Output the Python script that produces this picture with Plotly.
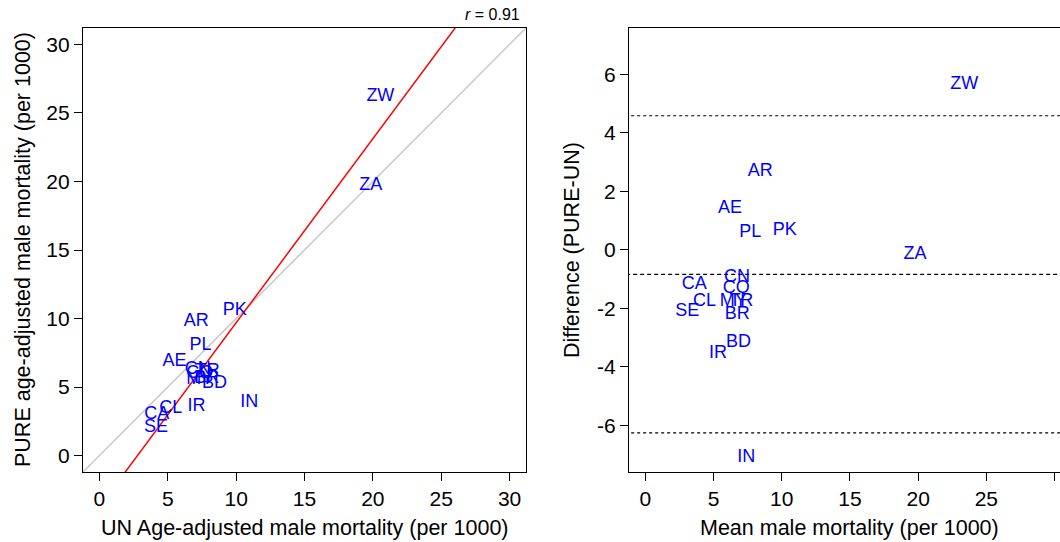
import plotly.graph_objects as go

# ---------------- data ----------------
codes = ["ZW", "ZA", "PK", "PL", "AR", "AE", "CN", "CO", "MY", "TR",
         "BR", "BD", "IR", "CA", "CL", "SE", "IN"]
un_mort = [20.55, 19.85, 9.9, 7.4, 7.08, 5.5, 7.2, 7.34, 7.34, 7.93,
           7.85, 8.41, 7.1, 4.19, 5.22, 4.14, 10.96]
pure_mort = [26.2, 19.7, 10.55, 8.0, 9.75, 6.9, 6.25, 6.0, 5.56, 6.15,
             5.63, 5.23, 3.55, 2.99, 3.44, 2.02, 3.85]

fit_intercept = -3.74
fit_slope = 1.343
r_value = 0.91

bias = -0.84
loa_upper = 4.58
loa_lower = -6.26

x_ticks = [0, 5, 10, 15, 20, 25, 30]
y_ticks_left = [0, 5, 10, 15, 20, 25, 30]
y_ticks_right = [-6, -4, -2, 0, 2, 4, 6]
y_ticktext_right = ["-6", "-4", "-2", "0", "2", "4", "6"]

mean_mort = [(u + p) / 2 for u, p in zip(un_mort, pure_mort)]
diff_mort = [p - u for u, p in zip(un_mort, pure_mort)]

FONT = "Liberation Sans, Arial, Helvetica, sans-serif"
BLUE = "#0000FF"
W, H = 1060, 542

fig = go.Figure()

# ---------------- left panel ----------------
ident = [-5, 40]
fig.add_trace(go.Scatter(x=ident, y=ident, mode="lines",
                         line=dict(color="#C8C8C8", width=1.5),
                         xaxis="x", yaxis="y", hoverinfo="skip"))
fit_x = [-5, 40]
fit_y = [fit_intercept + fit_slope * v for v in fit_x]
fig.add_trace(go.Scatter(x=fit_x, y=fit_y, mode="lines",
                         line=dict(color="#FF0000", width=1.5),
                         xaxis="x", yaxis="y", hoverinfo="skip"))
fig.add_trace(go.Scatter(x=un_mort, y=pure_mort, mode="text", text=codes,
                         textposition="middle center",
                         textfont=dict(family=FONT, size=18, color=BLUE),
                         xaxis="x", yaxis="y", cliponaxis=False))

# ---------------- right panel ----------------
hx = [-5, 40]
fig.add_trace(go.Scatter(x=hx, y=[loa_upper, loa_upper], mode="lines",
                         line=dict(color="black", width=1.2, dash="dot"),
                         xaxis="x2", yaxis="y2", hoverinfo="skip"))
fig.add_trace(go.Scatter(x=hx, y=[loa_lower, loa_lower], mode="lines",
                         line=dict(color="black", width=1.2, dash="dot"),
                         xaxis="x2", yaxis="y2", hoverinfo="skip"))
fig.add_trace(go.Scatter(x=hx, y=[bias, bias], mode="lines",
                         line=dict(color="black", width=1.2, dash="4px,3px"),
                         xaxis="x2", yaxis="y2", hoverinfo="skip"))
fig.add_trace(go.Scatter(x=mean_mort, y=diff_mort, mode="text", text=codes,
                         textposition="middle center",
                         textfont=dict(family=FONT, size=18, color=BLUE),
                         xaxis="x2", yaxis="y2", cliponaxis=False))

ydom = [1 - 472 / H, 1 - 28 / H]

axis_common = dict(showgrid=False, zeroline=False, showline=True,
                   linecolor="black", linewidth=1.2, ticks="outside",
                   ticklen=8, tickwidth=1.2, tickcolor="black",
                   tickfont=dict(family=FONT, size=21, color="black"))

fig.update_layout(
    width=W, height=H,
    margin=dict(l=0, r=0, t=0, b=0),
    paper_bgcolor="white", plot_bgcolor="white",
    showlegend=False,
    xaxis=dict(domain=[83 / W, 526 / W], range=[-1.2, 31.2],
               tickvals=x_ticks, mirror=True, anchor="y", **axis_common),
    yaxis=dict(domain=ydom, range=[-1.2, 31.2], tickvals=y_ticks_left,
               mirror=True, anchor="x", **axis_common),
    xaxis2=dict(domain=[629 / W, 1.0], range=[-1.2, 30.4],
                tickvals=x_ticks, mirror=True, anchor="y2", **axis_common),
    yaxis2=dict(domain=ydom, range=[-7.6, 7.58], tickvals=y_ticks_right,
                ticktext=y_ticktext_right, mirror=False, anchor="x2",
                **axis_common),
)

title_font = dict(family=FONT, size=21.5, color="black")
fig.add_annotation(text="UN Age-adjusted male mortality (per 1000)",
                   x=304.5 / W, y=1 - 528 / H, xref="paper", yref="paper",
                   xanchor="center", yanchor="middle", showarrow=False,
                   font=title_font)
fig.add_annotation(text="Mean male mortality (per 1000)",
                   x=849 / W, y=1 - 528 / H, xref="paper", yref="paper",
                   xanchor="center", yanchor="middle", showarrow=False,
                   font=title_font)
fig.add_annotation(text="PURE age-adjusted male mortality (per 1000)",
                   x=23 / W, y=1 - 250 / H, xref="paper", yref="paper",
                   xanchor="center", yanchor="middle", showarrow=False,
                   textangle=-90, font=title_font)
fig.add_annotation(text="Difference (PURE-UN)",
                   x=572 / W, y=1 - 250 / H, xref="paper", yref="paper",
                   xanchor="center", yanchor="middle", showarrow=False,
                   textangle=-90, font=title_font)
fig.add_annotation(text=f"<i>r</i> = {r_value:.2f}",
                   x=522 / W, y=1 - 15 / H, xref="paper", yref="paper",
                   xanchor="right", yanchor="middle", showarrow=False,
                   font=dict(family=FONT, size=16, color="black"))

fig.write_html("out.html",
               config={"displayModeBar": False},
               post_script="document.body.style.margin='0';"
                           "document.body.style.overflow='hidden';"
                           "document.documentElement.style.overflow='hidden';")
